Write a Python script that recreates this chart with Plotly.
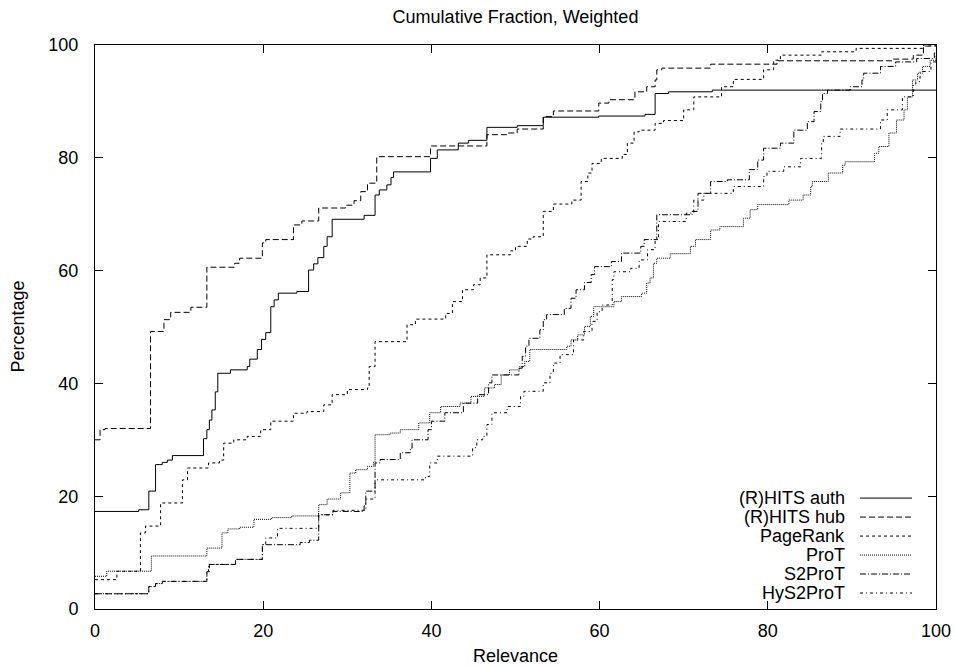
import plotly.graph_objects as go

# ---------------- data (step points: x where the value changes, value from there on) -------------
auth_x = [0, 5.2, 6.4, 7.2, 8.0, 8.6, 9.2, 12.9, 13.3, 13.6, 13.9, 14.3, 14.6, 16.1, 18.1, 18.4, 19.3,
          19.8, 20.3, 20.9, 21.3, 21.8, 24.0, 25.4, 26.0, 26.5, 27.2, 27.6, 28.2, 32.0, 33.3, 33.8, 34.7,
          35.2, 35.5, 39.9, 40.7, 43.2, 44.4, 46.6, 50.2, 53.3, 59.9, 65.4, 66.6, 68.2, 73.4, 100]
auth_y = [17.3, 17.6, 20.9, 25.6, 26.0, 26.4, 27.2, 30.2, 31.8, 33.5, 35.3, 38.5, 41.8, 42.4, 43.0, 44.3, 46.0,
          47.8, 49.0, 53.6, 54.8, 56.0, 56.3, 60.1, 61.2, 62.3, 64.3, 66.0, 69.1, 69.8, 73.4, 74.3, 75.2,
          76.5, 77.5, 79.9, 81.4, 82.6, 83.1, 85.4, 85.7, 87.2, 87.4, 87.7, 91.4, 91.7, 92.0, 92.0]

hub_x = [0, 0.6, 1.2, 6.6, 8.2, 9.0, 11.4, 13.3, 16.6, 17.2, 19.9, 20.3, 23.6, 24.6, 26.6, 29.8, 30.8, 31.6,
         32.4, 33.5, 39.9, 46.6, 49.0, 50.2, 53.3, 54.5, 59.9, 61.1, 64.2, 65.6, 66.6, 66.8, 67.4, 73.2, 81.1,
         94.9, 97.3, 98.5, 100]
hub_y = [30.0, 31.8, 32.0, 49.2, 51.3, 52.6, 53.5, 60.6, 61.3, 62.2, 64.9, 65.5, 68.1, 68.8, 71.1, 71.6, 72.4, 74.0,
         75.5, 80.2, 82.1, 84.1, 84.4, 85.1, 87.3, 88.3, 89.7, 90.3, 91.7, 92.6, 93.8, 95.6, 95.9, 96.6, 97.2,
         97.5, 98.2, 99.8, 100]

pr_x = [0, 2.6, 5.4, 6.0, 7.8, 10.4, 11.0, 13.5, 14.8, 15.3, 16.5, 18.1, 19.7, 20.9, 23.6, 25.2, 27.2, 28.2,
        30.0, 32.4, 32.6, 33.3, 37.1, 38.1, 41.7, 42.5, 43.7, 45.0, 45.8, 46.6, 49.4, 50.0, 51.4, 52.1, 53.3,
        54.5, 56.7, 57.8, 58.6, 59.1, 60.2, 62.7, 63.3, 64.1, 64.7, 66.6, 67.6, 70.0, 71.2, 74.5, 75.9, 79.5,
        80.7, 81.5, 86.4, 90.5, 98.5, 100]
pr_y = [5.2, 6.7, 13.5, 14.7, 18.8, 22.9, 25.0, 25.9, 26.4, 29.4, 30.0, 30.6, 31.8, 33.3, 34.7, 35.0, 36.2, 38.0,
        38.9, 39.2, 43.0, 47.4, 50.4, 51.4, 52.4, 54.5, 56.6, 57.5, 58.7, 62.8, 63.5, 64.3, 65.6, 66.0, 70.5,
        71.8, 72.5, 75.8, 77.3, 79.0, 79.9, 80.6, 82.6, 84.6, 84.9, 86.1, 86.6, 88.5, 90.8, 92.6, 93.9, 95.6,
        97.3, 98.2, 98.8, 99.4, 100, 100]

prot_x = [0, 1.4, 6.7, 13.3, 15.1, 15.8, 17.2, 18.9, 21.0, 23.4, 26.6, 27.6, 29.2, 30.3, 31.0, 32.4, 33.1,
          33.3, 35.1, 36.3, 38.5, 39.8, 41.1, 43.4, 44.7, 46.3, 47.5, 48.3, 49.3, 50.5, 51.1, 51.7, 56.1,
          56.6, 57.4, 58.2, 58.9, 59.3, 61.7, 62.6, 65.0, 65.6, 66.0, 66.4, 66.8, 68.4, 70.8, 71.4, 73.2,
          74.3, 77.1, 77.9, 78.8, 82.5, 84.2, 85.1, 85.3, 87.2, 88.9, 89.2, 92.7, 93.2, 94.4, 95.3, 96.2,
          96.6, 97.2, 97.8, 98.4, 99.3, 100]
prot_y = [5.8, 6.7, 9.4, 10.8, 13.5, 14.2, 14.5, 15.9, 16.2, 16.5, 18.5, 19.5, 20.6, 24.1, 24.7, 25.3, 26.0,
          30.9, 31.2, 31.8, 33.0, 34.8, 35.9, 36.5, 37.7, 39.2, 39.8, 41.5, 42.4, 43.0, 43.9, 46.0, 46.6,
          47.7, 48.6, 50.1, 51.9, 53.6, 54.5, 55.4, 56.0, 57.8, 58.7, 61.3, 62.2, 63.0, 64.3, 65.5, 67.2,
          67.8, 69.3, 70.8, 71.7, 72.5, 73.4, 74.9, 75.8, 77.3, 78.7, 79.3, 80.8, 82.0, 84.4, 86.7, 88.5,
          90.8, 93.8, 95.0, 96.2, 97.3, 98.0]

s2_x = [0, 6.4, 7.2, 8.0, 13.3, 13.5, 16.7, 19.9, 24.4, 25.5, 26.6, 28.3, 32.0, 32.2, 33.3, 33.9, 36.3, 37.5,
        37.7, 39.6, 40.0, 41.6, 43.8, 45.5, 46.8, 47.2, 50.4, 50.8, 51.2, 51.6, 52.9, 53.3, 53.7, 55.8, 56.6,
        57.2, 58.2, 59.0, 59.4, 61.4, 62.6, 64.9, 65.3, 66.8, 71.0, 71.7, 73.2, 75.2, 77.8, 78.8, 79.5, 81.5,
        83.1, 84.7, 85.5, 86.3, 86.5, 87.1, 89.8, 91.2, 91.4, 93.4, 95.2, 97.7, 99.8, 100]
s2_y = [2.7, 4.0, 4.5, 4.9, 6.6, 7.9, 8.8, 11.4, 11.8, 12.2, 16.7, 17.3, 18.3, 20.9, 25.9, 26.5, 27.7, 28.5,
        30.0, 31.8, 33.3, 34.8, 36.5, 38.0, 40.1, 41.5, 42.7, 44.8, 46.6, 48.0, 49.5, 51.3, 52.2, 53.3, 55.1,
        56.6, 57.9, 59.3, 60.7, 61.6, 63.1, 64.3, 65.5, 69.9, 70.5, 73.7, 75.8, 76.1, 77.9, 79.6, 81.7, 82.6,
        84.9, 86.4, 88.2, 90.0, 91.4, 92.0, 92.6, 93.8, 95.0, 96.2, 97.0, 97.6, 98.6, 98.6]

hy_x = [0, 6.4, 7.2, 8.0, 13.3, 13.6, 16.7, 19.9, 20.3, 21.7, 26.6, 28.3, 32.2, 33.3, 39.3, 39.8, 40.7, 44.9,
        45.4, 46.1, 46.6, 47.2, 49.0, 50.6, 51.0, 53.3, 54.1, 54.5, 55.3, 56.9, 58.1, 59.1, 59.7, 60.3, 61.5,
        61.7, 63.7, 64.7, 65.7, 66.6, 67.0, 70.3, 71.2, 72.4, 73.2, 75.9, 79.5, 79.9, 81.9, 83.9, 86.4, 86.6,
        88.6, 93.4, 94.2, 96.0, 96.2, 97.3, 97.6, 98.1, 99.4, 100]
hy_y = [2.7, 4.0, 4.5, 4.9, 6.4, 7.9, 8.8, 11.4, 12.6, 14.3, 16.7, 17.5, 19.5, 22.9, 23.5, 25.9, 27.1, 28.6,
        30.0, 30.6, 32.7, 34.8, 35.9, 37.7, 38.6, 40.1, 41.8, 43.6, 45.1, 47.7, 49.2, 51.0, 52.7, 53.9, 58.4,
        59.8, 60.4, 61.9, 63.7, 65.5, 68.7, 70.2, 72.5, 73.7, 73.7, 74.9, 76.7, 77.6, 78.4, 79.9, 82.6, 83.8,
        85.1, 86.7, 88.5, 90.6, 90.8, 92.9, 93.5, 95.3, 97.0, 97.0]

series_names = ["(R)HITS auth", "(R)HITS hub", "PageRank", "ProT", "S2ProT", "HyS2ProT"]
series_x = [auth_x, hub_x, pr_x, prot_x, s2_x, hy_x]
series_y = [auth_y, hub_y, pr_y, prot_y, s2_y, hy_y]
dashes = ["solid", "6px,3px", "3px,3px", "1px,1px", "6px,2px,1px,2px", "3px,3px,1px,3px"]

x_ticks = [0, 20, 40, 60, 80, 100]
y_ticks = [0, 20, 40, 60, 80, 100]

FONT = "Liberation Sans, Arial, sans-serif"
FS = 18

# plot area in pixels
L = 94.5
W = 841.5
TOP = 45.0
B = 609.5
H = B - TOP

fig = go.Figure()
for name, xs, ys, d in zip(series_names, series_x, series_y, dashes):
    fig.add_trace(go.Scatter(x=xs, y=ys, mode="lines", name=name, line_shape="hv",
                             line=dict(color="black", width=1, dash=d), showlegend=False))

# manual legend (text right-aligned, sample on the right, as in the original)
text_x = (847 - L) / W
samp_x0 = (860 - L) / W
samp_x1 = (912 - L) / W
for i, (name, d) in enumerate(zip(series_names, dashes)):
    py = 498.5 + 19 * i
    yp = (B - py) / H
    fig.add_annotation(x=text_x, y=yp, xref="paper", yref="paper", text=name, showarrow=False,
                       xanchor="right", yanchor="middle", font=dict(family=FONT, size=FS, color="black"))
    fig.add_shape(type="line", xref="paper", yref="paper", x0=samp_x0, x1=samp_x1, y0=yp, y1=yp,
                  line=dict(color="black", width=1, dash=d))

# axis titles
fig.add_annotation(x=0.5, y=-(657 - B) / H, xref="paper", yref="paper", text="Relevance", showarrow=False,
                   xanchor="center", yanchor="middle", font=dict(family=FONT, size=FS, color="black"))
fig.add_annotation(x=-(L - 17) / W, y=0.5, xref="paper", yref="paper", text="Percentage", showarrow=False,
                   textangle=-90, xanchor="center", yanchor="middle",
                   font=dict(family=FONT, size=FS, color="black"))

axis_common = dict(showgrid=False, zeroline=False, showline=True, linecolor="black", linewidth=1,
                   mirror="allticks", ticks="inside", ticklen=8, tickwidth=1, tickcolor="black",
                   tickfont=dict(family=FONT, size=FS, color="black"))

fig.update_layout(
    width=956, height=666,
    margin=dict(l=L, r=956 - L - W, t=TOP, b=666 - B, pad=0),
    paper_bgcolor="white", plot_bgcolor="white",
    title=dict(text="Cumulative Fraction, Weighted", x=0.5, xref="paper", xanchor="center",
               y=1 - 17 / 666, yref="container", yanchor="middle",
               font=dict(family=FONT, size=FS, color="black")),
    xaxis=dict(range=[0, 100], tickvals=x_ticks, ticktext=[str(v) for v in x_ticks],
               ticklabelstandoff=5, automargin=False, **axis_common),
    yaxis=dict(range=[0, 100], tickvals=y_ticks, ticktext=[str(v) for v in y_ticks],
               ticklabelstandoff=12, automargin=False, **axis_common),
)

fig.write_html("out.html")
